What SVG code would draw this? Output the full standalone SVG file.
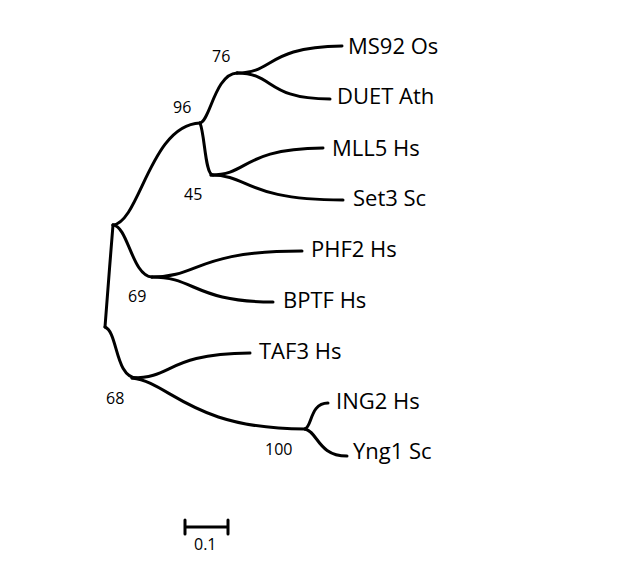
<svg xmlns="http://www.w3.org/2000/svg" width="636" height="562" viewBox="0 0 636 562">
<style>
.br{fill:none;stroke:#000;stroke-width:3;stroke-linecap:round;stroke-linejoin:round}
.leaf{font-family:"Open Sans","Noto Sans",sans-serif;font-size:22px;fill:#000}
.bs{font-family:"Open Sans","Noto Sans",sans-serif;font-size:16px;fill:#000}
.sc{font-family:"Open Sans","Noto Sans",sans-serif;font-size:16px;fill:#000}
</style>
<rect width="636" height="562" fill="#fff"/>
<g id="connectors">
<path class="br" d="M105,327 C108,290 110,260 113,225"/>
<path class="br" d="M113,225 C140,222 150,125 200,123"/>
<path class="br" d="M200,123 C210,121 215,74 237,73"/>
<path class="br" d="M200,123 C205,135 205,175 213,175"/>
<path class="br" d="M237,73 C275,73 265,47 342,46"/>
<path class="br" d="M237,73 C275,73 265,99 330,99"/>
<path class="br" d="M211,175 C250,175 240,149 323,148"/>
<path class="br" d="M211,175 C250,175 245,200 343,200"/>
<path class="br" d="M113,225 C128,226 132,276 152,277"/>
<path class="br" d="M152,277 C200,277 195,251 302,251"/>
<path class="br" d="M152,277 C195,277 195,302 273,302"/>
<path class="br" d="M105,327 C118,332 115,378 137,378"/>
<path class="br" d="M132,378 C175,378 165,354 250,353"/>
<path class="br" d="M132,378 C170,382 190,429 305,429"/>
<path class="br" d="M305,429 C312,427 310,403 328,403"/>
<path class="br" d="M305,429 C318,432 318,456 347,456"/>
</g>
<g id="leaf-ms92"><text class="leaf" x="348" y="54">MS92 Os</text></g>
<g id="leaf-duet"><text class="leaf" x="337" y="104">DUET Ath</text></g>
<g id="leaf-mll5"><text class="leaf" x="332" y="156">MLL5 Hs</text></g>
<g id="leaf-set3"><text class="leaf" x="353" y="206">Set3 Sc</text></g>
<g id="leaf-phf2"><text class="leaf" x="311" y="257">PHF2 Hs</text></g>
<g id="leaf-bptf"><text class="leaf" x="283" y="308">BPTF Hs</text></g>
<g id="leaf-taf3"><text class="leaf" x="259" y="359">TAF3 Hs</text></g>
<g id="leaf-ing2"><text class="leaf" x="336" y="409">ING2 Hs</text></g>
<g id="leaf-yng1"><text class="leaf" x="353" y="459">Yng1 Sc</text></g>
<g id="node-76"><text class="bs" x="212" y="62">76</text></g>
<g id="node-96"><text class="bs" x="173" y="113">96</text></g>
<g id="node-45"><text class="bs" x="184" y="200">45</text></g>
<g id="node-69"><text class="bs" x="128" y="302">69</text></g>
<g id="node-68"><text class="bs" x="106" y="404">68</text></g>
<g id="node-100"><text class="bs" x="265" y="455">100</text></g>
<g id="scale-bar">
<path class="br" d="M185,527 H228 M185,520 V534 M228,520 V534" stroke-linecap="butt"/>
<text class="sc" x="194" y="550">0.1</text>
</g>
</svg>
